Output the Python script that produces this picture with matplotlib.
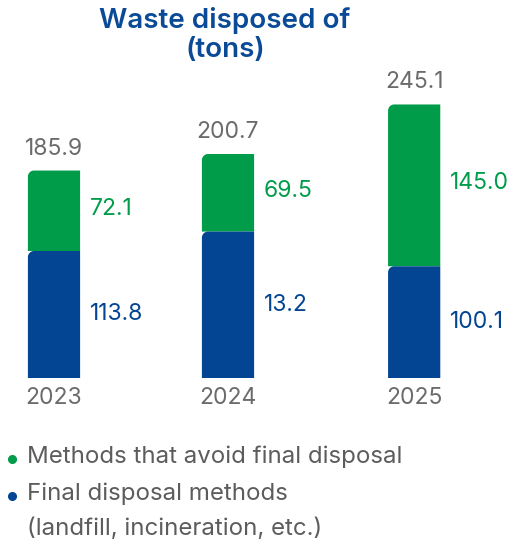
import matplotlib
matplotlib.use("Agg")
import matplotlib.pyplot as plt
from matplotlib.path import Path
from matplotlib.patches import PathPatch

plt.rcParams['font.family'] = ['Inter', 'DejaVu Sans']

# data
years = ["2023", "2024", "2025"]
final_disposal = [113.8, 131.2, 100.1]        # blue, drawn height
final_labels = ["113.8", "13.2", "100.1"]      # blue, text printed in the source
avoid_disposal = [72.1, 69.5, 145.0]           # green
avoid_labels = ["72.1", "69.5", "145.0"]
totals = ["185.9", "200.7", "245.1"]

title_lines = ["Waste disposed of", "(tons)"]
legend_lines = [["Methods that avoid final disposal"],
                ["Final disposal methods", "(landfill, incineration, etc.)"]]

BLUE = '#034592'
GREEN = '#009c4a'
GREY = '#6b6b6b'
TITLE = '#0a4a96'

x_pos = [0, 1, 2.07]
bar_w = 0.30

W, H, DPI = 511, 545, 100
fig = plt.figure(figsize=(W / DPI, H / DPI), dpi=DPI)

# axes placed in pixels: baseline at y=378 from top, ~1.115 px per ton
ax_bottom = H - 378
ax_height = 279
ax = fig.add_axes([0, ax_bottom / H, 1, ax_height / H])
ax.set_xlim(-54 / 174, (W - 54) / 174)
ax.set_ylim(0, 250)
ax.axis('off')

px_x = 174.0               # px per x unit
px_y = ax_height / 250.0   # px per y unit
r = 6                      # corner radius, px


def rounded_bar(x, y0, h, color):
    # rectangle with a rounded top-left corner
    left, right = x - bar_w / 2, x + bar_w / 2
    top = y0 + h
    rx, ry = r / px_x, r / px_y
    k = 0.55
    verts = [(left, y0), (right, y0), (right, top), (left + rx, top),
             (left + rx * (1 - k), top), (left, top - ry * (1 - k)), (left, top - ry),
             (left, y0)]
    codes = [Path.MOVETO, Path.LINETO, Path.LINETO, Path.LINETO,
             Path.CURVE4, Path.CURVE4, Path.CURVE4, Path.CLOSEPOLY]
    ax.add_patch(PathPatch(Path(verts, codes), facecolor=color, edgecolor='none'))


fs = 16.5
for i, x in enumerate(x_pos):
    b = final_disposal[i]
    g = avoid_disposal[i]
    rounded_bar(x, b, g, GREEN)
    rounded_bar(x, 0, b, BLUE)

    ax.annotate(totals[i], (x, b + g), xytext=(0, 11.5), textcoords='offset points',
                ha='center', va='baseline', fontsize=fs, color=GREY)
    ax.annotate(avoid_labels[i], (x + bar_w / 2, b + g / 2), xytext=(7, 1.5),
                textcoords='offset points', ha='left', va='center', fontsize=fs, color=GREEN)
    ax.annotate(final_labels[i], (x + bar_w / 2, b / 2), xytext=(7, 0),
                textcoords='offset points', ha='left', va='center', fontsize=fs, color=BLUE)
    ax.annotate(years[i], (x, 0), xytext=(0, -6.5), textcoords='offset points',
                ha='center', va='top', fontsize=fs, color=GREY)

# title, two centred lines
for line, base in zip(title_lines, [28, 57]):
    fig.text(225 / W, 1 - base / H, line, ha='center', va='baseline',
             fontsize=20, fontweight='semibold', color=TITLE)

# legend
legend_colors = [GREEN, BLUE]
legend_base = [[463], [500, 535]]
for color, lines, bases in zip(legend_colors, legend_lines, legend_base):
    for line, base in zip(lines, bases):
        fig.text(27 / W, 1 - base / H, line, ha='left', va='baseline', fontsize=17.3,
                 color='#5c5c5c')
    fig.add_artist(plt.Line2D([12 / W], [1 - (bases[0] - 4) / H], marker='o', markersize=5.5,
                              color=color, transform=fig.transFigure))

fig.savefig("out.png", dpi=DPI)
